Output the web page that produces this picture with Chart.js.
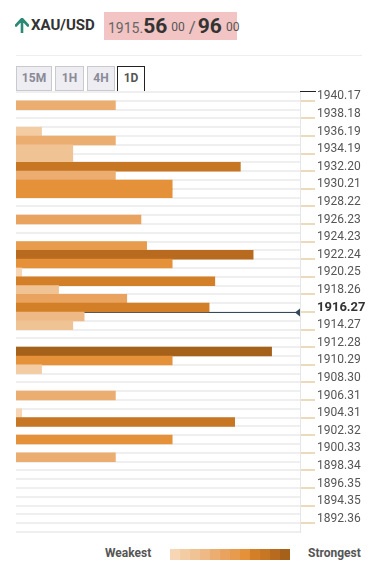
<!DOCTYPE html>
<html lang="en">
<head>
  <meta charset="UTF-8" />
  <title>XAU/USD confluence levels</title>
  <script src="https://cdn.jsdelivr.net/npm/chart.js"></script>
  <style>
    body {
      margin: 0;
      width: 379px;
      height: 574px;
      position: relative;
      background: #fff;
      font-family: Roboto, 'Noto Sans', sans-serif;
      overflow: hidden;
    }
    .arrow { position: absolute; left: 15px; top: 18px; }
    .pair {
      position: absolute; left: 31px; top: 16px;
      font-size: 15px; font-weight: bold; color: #333;
    }
    .quote {
      position: absolute; left: 104px; top: 12px;
      width: 133px; height: 28px;
      background: #f2c4c3;
      display: flex; align-items: baseline;
      padding-left: 4px; box-sizing: border-box;
      color: #444;
    }
    .quote .small { font-size: 14px; color: #666; }
    .quote .big { font-size: 21px; font-weight: bold; color: #333; line-height: 28px; }
    .quote sup { font-size: 12px; color: #555; margin: 0 3px 0 4px; position: relative; top: -2px; }
    .quote .sep { font-size: 17px; color: #666; margin: 0 2px 0 1px; }
    .rule { position: absolute; left: 16px; top: 55px; width: 346px; height: 1px; background: #eeeeee; }
    .tab {
      position: absolute; top: 66px; height: 25px;
      box-sizing: border-box;
      background: #ededf2; border: 1px solid #c9c9d0;
      font-size: 12px; font-weight: bold; color: #8a8a98;
      text-align: center; line-height: 23px;
    }
    .tab.on { background: #fff; border: 1px solid #222; border-bottom: none; color: #555; height: 26px; }
    .base { position: absolute; top: 91px; height: 1px; background: #222; }
    #wrap { position: absolute; left: 0; top: 80px; width: 379px; height: 464px; }
    .legend { position: absolute; top: 546px; font-size: 12px; font-weight: bold; color: #555; }
    .swatches { position: absolute; left: 170px; top: 549px; height: 11px; display: flex; }
    .swatches div { width: 10px; height: 11px; }
  </style>
</head>
<body>
  <svg class="arrow" width="14" height="15" viewBox="0 0 14 15">
    <path d="M7 1 L1 7.5 M7 1 L13 7.5 M7 1 L7 14.5" stroke="#2b8a76" stroke-width="2.6" fill="none" stroke-linecap="round" stroke-linejoin="round"/>
  </svg>
  <div class="pair">XAU/USD</div>
  <div class="quote">
    <span class="small">1915.</span><span class="big">56</span><sup>00</sup><span class="sep">/</span><span class="big">96</span><sup>00</sup>
  </div>
  <div class="rule"></div>

  <div class="tab" style="left:16px;width:36px">15M</div>
  <div class="tab" style="left:55px;width:29px">1H</div>
  <div class="tab" style="left:87px;width:28px">4H</div>
  <div class="tab on" style="left:117px;width:28px">1D</div>
  <div class="base" style="left:16px;width:101px"></div>
  <div class="base" style="left:145px;width:171px"></div>

  <div id="wrap"><canvas id="levels"></canvas></div>

  <div class="legend" style="left:105px">Weakest</div>
  <div class="swatches" id="swatches"></div>
  <div class="legend" style="left:308px">Strongest</div>

  <script>
    // price levels shown on the axis (one label every two rows)
    const priceLevels = ['1940.17', '1938.18', '1936.19', '1934.19', '1932.20', '1930.21', '1928.22',
      '1926.23', '1924.23', '1922.24', '1920.25', '1918.26', '1916.27', '1914.27', '1912.28',
      '1910.29', '1908.30', '1906.31', '1904.31', '1902.32', '1900.33', '1898.34', '1896.35',
      '1894.35', '1892.36'];

    // rows (0 = top) that hold a confluence bar, and their strength (0-100)
    const levelRows = [1, 4, 5, 6, 7, 8, 9, 10, 11, 14, 17, 18, 19, 20, 21, 22, 23, 24, 25, 26,
      29, 30, 31, 34, 36, 37, 39, 41];
    const levelStrength = [35, 9, 35, 20, 20, 79, 35, 55, 55, 44, 46, 83.5, 55, 2, 70, 15, 39, 68, 24, 20,
      90, 55, 9, 35, 2, 77, 55, 35];

    const currentPrice = '1916.27';
    const currentRow = 24;

    const palette = ['#f6d6b4', '#f3cca3', '#f0c395', '#eeb985', '#ebad70', '#e9a35e', '#e79b4c',
      '#e4913a', '#d27f27', '#c77623', '#b86a1f', '#a5611a'];

    const rowCount = priceLevels.length * 2;
    const rowLabels = [];
    priceLevels.forEach(p => { rowLabels.push(p, ''); });
    const strength = new Array(rowCount).fill(null);
    levelRows.forEach((r, i) => { strength[r] = levelStrength[i]; });

    const colorFor = v => palette[Math.min(palette.length - 1, Math.round(v * palette.length / 100))];

    const sw = document.getElementById('swatches');
    palette.forEach(c => {
      const d = document.createElement('div');
      d.style.background = c;
      sw.appendChild(d);
    });

    const priceLine = {
      id: 'priceLine',
      beforeDatasetsDraw(chart) {
        const { ctx, chartArea, scales: { y } } = chart;
        const rowH = y.getPixelForTick(1) - y.getPixelForTick(0);
        const py = Math.round(y.getPixelForTick(currentRow) + rowH / 2) + 0.5;
        ctx.save();
        ctx.strokeStyle = '#34495e';
        ctx.lineWidth = 1;
        ctx.beginPath();
        ctx.moveTo(chartArea.left, py);
        ctx.lineTo(chartArea.right - 4, py);
        ctx.stroke();
        ctx.fillStyle = '#34495e';
        ctx.beginPath();
        ctx.moveTo(chartArea.right - 5, py);
        ctx.lineTo(chartArea.right, py - 4);
        ctx.lineTo(chartArea.right, py + 4);
        ctx.closePath();
        ctx.fill();
        ctx.restore();
      }
    };

    new Chart(document.getElementById('levels'), {
      type: 'bar',
      data: {
        labels: rowLabels,
        datasets: [{
          data: strength,
          backgroundColor: strength.map(v => v == null ? 'transparent' : colorFor(v)),
          barPercentage: 1,
          categoryPercentage: 1,
          borderWidth: 0
        }]
      },
      options: {
        indexAxis: 'y',
        responsive: true,
        maintainAspectRatio: false,
        animation: false,
        layout: { padding: { left: 16, top: 12, bottom: 12, right: 0 } },
        plugins: { legend: { display: false }, tooltip: { enabled: false } },
        scales: {
          x: { display: false, min: 0, max: 100 },
          y: {
            position: 'right',
            afterFit: s => {
              s.width = 79;
              s.paddingTop = 0;
              s.paddingBottom = 0;
            },
            border: { display: true, color: '#e6e6e6', width: 1 },
            grid: {
              offset: true,
              color: '#efefef',
              lineWidth: 2,
              drawTicks: true,
              tickLength: 15,
              tickWidth: 1,
              tickColor: c => (c.index % 2 === 1 ? '#d8b57a' : 'rgba(0,0,0,0)')
            },
            ticks: {
              autoSkip: false,
              padding: 2,
              color: c => (c.index === currentRow ? '#333' : '#555'),
              font: c => (c.index === currentRow
                ? { family: 'Roboto', size: 13, weight: 'bold' }
                : { family: 'Roboto', size: 12 })
            }
          }
        }
      },
      plugins: [priceLine]
    });
  </script>
</body>
</html>
